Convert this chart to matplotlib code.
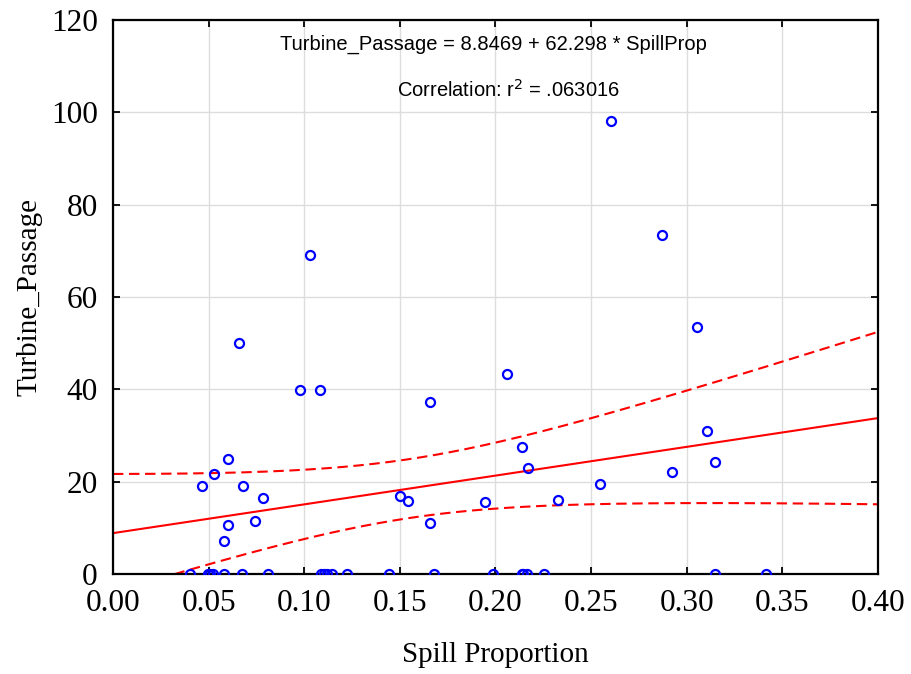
import numpy as np
import matplotlib
matplotlib.use("Agg")
import matplotlib.pyplot as plt

# spill proportion vs turbine passage
spill = [0.0465, 0.0528, 0.0601, 0.0659, 0.0680, 0.0601, 0.0580, 0.0742, 0.0784,
         0.0978, 0.1030, 0.1082, 0.1658, 0.1500, 0.1540, 0.1658, 0.1945, 0.2060,
         0.2139, 0.2170, 0.2327, 0.2546, 0.2604, 0.2870, 0.2923, 0.3054, 0.3106,
         0.3148,
         0.0403, 0.0495, 0.0507, 0.0523, 0.0580, 0.0675, 0.0809, 0.1088, 0.1103,
         0.1117, 0.1144, 0.1225, 0.1445, 0.1680, 0.1988, 0.2137, 0.2145, 0.2163,
         0.2254, 0.3148, 0.3414]
passage = [19.1, 21.7, 24.9, 50.0, 19.1, 10.6, 7.2, 11.5, 16.5,
           39.9, 69.1, 39.9, 37.3, 16.9, 15.8, 11.0, 15.6, 43.3,
           27.5, 23.0, 16.0, 19.5, 98.1, 73.4, 22.1, 53.5, 31.0,
           24.3,
           0, 0, 0, 0, 0, 0, 0, 0, 0,
           0, 0, 0, 0, 0, 0, 0, 0, 0,
           0, 0, 0]

intercept = 8.8469
slope = 62.298
eq_text = "Turbine_Passage = 8.8469 + 62.298 * SpillProp"
r2_text = "Correlation: r$^2$ = .063016"

x = np.array(spill)
y = np.array(passage)
n = len(x)

# 95% confidence band for the regression line
xs = np.linspace(0, 0.4, 200)
fit = intercept + slope * xs
resid = y - (intercept + slope * x)
s = np.sqrt(np.sum(resid ** 2) / (n - 2))
sxx = np.sum((x - x.mean()) ** 2)
t = 2.05
half = t * s * np.sqrt(1.0 / n + (xs - x.mean()) ** 2 / sxx)

fig = plt.figure(figsize=(9.11, 6.74), dpi=100)
ax = fig.add_axes([0.124, 0.1484, 0.8398, 0.822])

ax.grid(True, color="#dddddd", linewidth=1.0, zorder=0)
ax.plot(xs, fit, color="red", linewidth=1.5, zorder=2)
ax.plot(xs, fit + half, color="red", linewidth=1.5, linestyle=(0, (5, 2.7)), zorder=2)
ax.plot(xs, fit - half, color="red", linewidth=1.5, linestyle=(0, (5, 2.7)), zorder=2)
ax.plot(x, y, linestyle="none", marker="o", markersize=6.5, markerfacecolor="none",
        markeredgecolor="blue", markeredgewidth=1.6, zorder=3)

ax.set_xlim(0, 0.4)
ax.set_ylim(0, 120)
ax.set_xticks(np.arange(0, 0.401, 0.05))
ax.set_yticks(np.arange(0, 121, 20))
ax.set_xticklabels(["%.2f" % v for v in np.arange(0, 0.401, 0.05)])

serif = "Liberation Serif"
for lab in ax.get_xticklabels() + ax.get_yticklabels():
    lab.set_fontfamily(serif)
    lab.set_fontsize(22.5)
ax.tick_params(direction="in", length=5, width=1.3, top=True, right=True)
ax.tick_params(axis="x", pad=11)
ax.tick_params(axis="y", pad=11)
for sp in ax.spines.values():
    sp.set_linewidth(1.6)

ax.set_xlabel("Spill Proportion", fontfamily=serif, fontsize=21, labelpad=17)
ax.set_ylabel("Turbine_Passage", fontfamily=serif, fontsize=21, labelpad=6)

ax.text(0.497, 0.956, eq_text, transform=ax.transAxes, ha="center", va="center",
        fontfamily="Liberation Sans", fontsize=14.5)
ax.text(0.517, 0.873, r2_text, transform=ax.transAxes, ha="center", va="center",
        fontfamily="Liberation Sans", fontsize=14.5)

fig.savefig("out.png", dpi=100)
